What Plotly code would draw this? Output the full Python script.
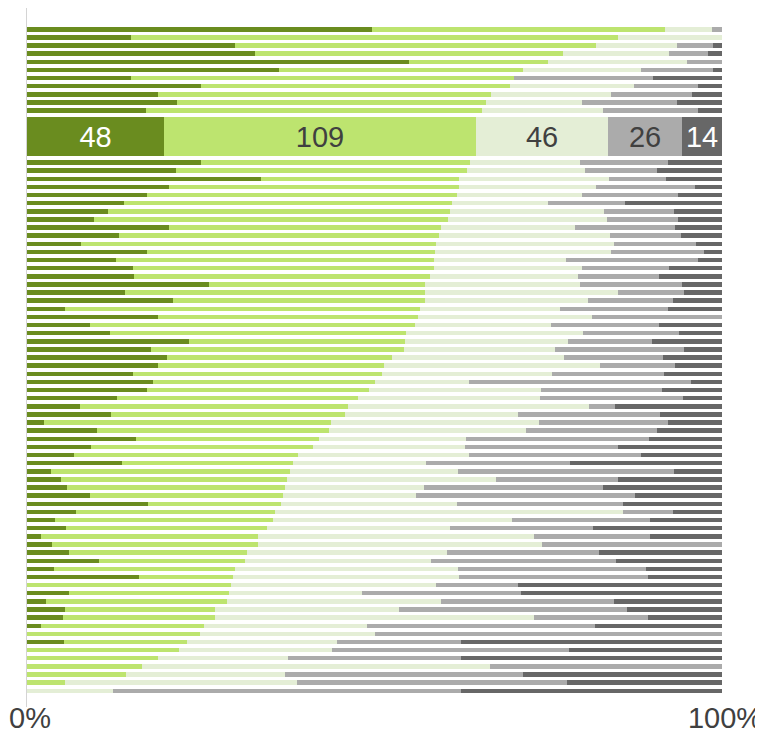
import plotly.graph_objects as go

# ---- data (percent of each row, rows sorted; highlighted row given as counts) ----
segment_names = ["Strongly agree", "Agree", "Neutral", "Disagree", "Strongly disagree"]
segment_colors = ["#6a8c1f", "#bde46f", "#e4eed6", "#ababab", "#676767"]

# 11 rows above the highlighted row
top_s1 = [49.6, 14.9, 30.0, 32.8, 55.0, 36.3, 14.9, 25.1, 18.9, 21.6, 17.2]
top_s2 = [42.2, 70.1, 52.1, 44.3, 20.0, 35.1, 55.1, 44.4, 47.9, 44.5, 48.4]
top_s3 = [6.8, 15.0, 11.6, 15.3, 20.1, 16.9, 0, 17.8, 17.3, 13.8, 17.3]
top_s4 = [1.4, 0, 5.2, 5.6, 5.0, 10.4, 20.1, 9.3, 11.7, 13.7, 13.8]
top_s5 = [0, 0, 1.3, 2.0, 0, 1.3, 9.9, 3.4, 4.3, 6.5, 3.4]

# highlighted row (counts)
highlight_values = [48, 109, 46, 26, 14]

# 66 rows below the highlighted row
bot_s1 = [25.1, 21.4, 33.7, 20.4, 17.3, 13.9, 11.7, 9.7, 20.4, 13.2, 7.8, 17.3, 12.8, 15.3, 15.4,
          26.2, 14.1, 21.0, 5.5, 18.8, 9.0, 12.0, 23.3, 17.8, 20.2, 18.9, 15.3, 18.1, 17.3, 13.0,
          7.6, 12.1, 2.5, 10.0, 15.7, 9.2, 6.8, 13.6, 3.4, 4.9, 5.7, 9.0, 17.4, 7.1, 4.1, 5.6,
          2.0, 3.6, 6.0, 10.4, 3.9, 16.2, 0, 6.1, 2.8, 5.5, 5.2, 2.0, 0, 5.3, 0, 0, 0, 0, 0, 0]
bot_s2 = [38.6, 42.0, 28.4, 41.7, 44.7, 47.3, 49.2, 50.9, 39.2, 46.1, 51.1, 41.4, 45.8, 43.2, 42.6,
          31.1, 43.1, 36.2, 51.1, 37.5, 46.8, 42.5, 31.1, 36.5, 32.4, 32.4, 35.8, 31.9, 31.9, 34.6,
          38.6, 33.7, 41.3, 33.5, 26.4, 32.0, 32.2, 24.6, 34.5, 32.6, 31.4, 27.9, 19.1, 28.6, 31.3,
          29.0, 31.3, 29.6, 25.7, 20.9, 26.0, 13.5, 29.4, 22.9, 26.0, 21.6, 21.8, 23.5, 24.9, 17.8,
          21.9, 18.8, 16.6, 14.3, 5.5, 0]
bot_s3 = [15.9, 17.0, 21.6, 19.7, 17.9, 13.9, 22.1, 22.8, 19.2, 24.6, 25.5, 25.4, 19.0, 21.3, 21.3,
          22.3, 27.9, 23.5, 20.1, 25.1, 19.5, 25.4, 23.4, 21.8, 24.7, 31.1, 24.4, 13.6, 24.7, 26.2,
          34.6, 24.8, 29.9, 28.3, 21.1, 21.8, 24.6, 19.2, 24.1, 30.0, 20.0, 19.0, 25.4, 50.0, 34.4,
          26.3, 39.7, 40.9, 28.7, 26.7, 32.0, 32.5, 29.5, 19.2, 30.7, 26.4, 45.9, 23.4, 25.1, 21.6,
          22.0, 18.8, 50.0, 22.8, 33.3, 12.4]
bot_s4 = [12.6, 10.3, 8.2, 14.3, 13.8, 11.1, 10.1, 10.3, 14.4, 10.2, 11.8, 13.4, 19.0, 12.6, 11.6,
          14.7, 9.4, 12.3, 15.6, 18.7, 15.5, 13.8, 12.1, 18.5, 14.3, 10.8, 16.2, 31.9, 17.4, 20.6,
          3.8, 20.5, 18.5, 18.8, 26.4, 22.0, 24.8, 20.6, 31.1, 17.6, 25.8, 31.6, 23.8, 7.2, 19.9,
          20.6, 16.7, 25.9, 21.9, 26.6, 27.1, 27.2, 11.8, 22.9, 25.0, 32.9, 16.4, 32.8, 50.0, 17.8,
          34.1, 24.9, 33.4, 34.4, 38.9, 50.0]
bot_s5 = [7.8, 9.4, 8.1, 3.9, 6.4, 13.9, 6.9, 6.3, 6.8, 5.9, 3.8, 2.6, 3.4, 7.6, 9.1,
          5.7, 5.5, 7.0, 7.7, 0, 9.1, 6.2, 10.1, 5.5, 8.5, 6.7, 8.3, 4.5, 8.7, 5.6,
          15.4, 8.9, 7.8, 9.4, 10.5, 15.0, 11.6, 21.9, 6.9, 15.0, 17.1, 12.5, 14.3, 7.1, 10.4,
          18.5, 10.4, 0, 17.7, 15.3, 10.9, 10.7, 29.4, 28.9, 15.5, 13.6, 10.7, 18.3, 0, 37.6,
          22.0, 37.6, 0, 28.6, 22.3, 37.6]

tick_vals = [0, 100]
tick_text = ["0%", "100%"]

# ---- layout positions (row slots) ----
n_top = len(top_s1)
n_bot = len(bot_s1)
highlight_gap = 3.2
highlight_pos = (n_top - 1) + highlight_gap
row_pos = list(range(n_top)) + [highlight_pos + highlight_gap + j for j in range(n_bot)]

series = [top_s1 + bot_s1, top_s2 + bot_s2, top_s3 + bot_s3, top_s4 + bot_s4, top_s5 + bot_s5]

fig = go.Figure()
for name, vals, color in zip(segment_names, series, segment_colors):
    fig.add_trace(go.Bar(
        x=vals, y=row_pos, orientation="h", name=name,
        marker=dict(color=color, line=dict(width=0)),
        width=0.55, showlegend=False, hoverinfo="skip",
    ))

label_colors = ["white", "#404040", "#404040", "#404040", "white"]
for name, v, color, lc in zip(segment_names, highlight_values, segment_colors, label_colors):
    fig.add_trace(go.Bar(
        x=[v], y=[highlight_pos], orientation="h", name=name,
        marker=dict(color=color, line=dict(width=0)),
        width=4.8, showlegend=False,
        text=[str(v)], textposition="inside", insidetextanchor="middle",
        textangle=0, constraintext="none",
        textfont=dict(size=29, color=lc, family="Liberation Sans, Arial, sans-serif"),
    ))

bottom_val = highlight_pos + highlight_gap + n_bot - 1 + 2.0
fig.update_layout(
    barmode="stack", barnorm="percent", bargap=0,
    width=755, height=726,
    margin=dict(l=19, r=41, t=0, b=27, autoexpand=False),
    paper_bgcolor="white", plot_bgcolor="white",
    font=dict(family="Liberation Sans, Arial, sans-serif", color="#404040"),
    xaxis=dict(range=[0, 100], tickvals=tick_vals, ticktext=tick_text,
               showgrid=False, zeroline=False, showline=False, ticks="",
               automargin=False, ticklabelstandoff=-9, ticklabeloverflow="allow",
               ticklabelshift=3,
               tickfont=dict(size=29, color="#404040")),
    yaxis=dict(range=[bottom_val, -2.62], showticklabels=False, showgrid=False,
               automargin=False,
               zeroline=False, showline=True, linecolor="#d4d4d4", linewidth=1, ticks=""),
)

fig.write_html("out.html")
